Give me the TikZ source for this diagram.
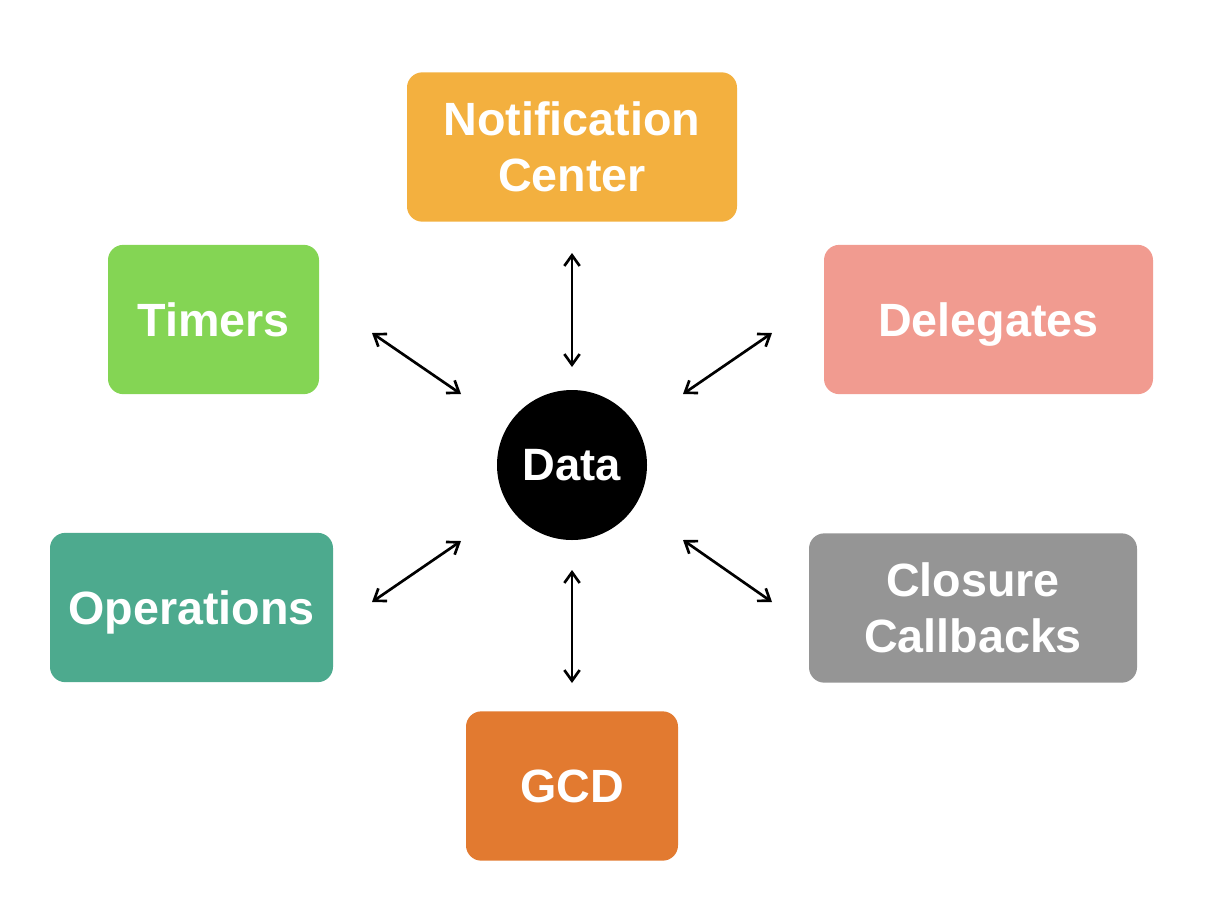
\documentclass[tikz,border=0pt]{standalone}
\usepackage{fontspec}
\setmainfont{Liberation Sans}
\usetikzlibrary{arrows.meta}

\definecolor{notifcol}{HTML}{F3B03F}
\definecolor{timercol}{HTML}{84D554}
\definecolor{delegcol}{HTML}{F19B90}
\definecolor{opercol}{HTML}{4DAA8E}
\definecolor{closurecol}{HTML}{959595}
\definecolor{gcdcol}{HTML}{E27A30}

\begin{document}
\begin{tikzpicture}[x=0.75pt,y=-0.75pt,
    topicbox/.style={rectangle,rounded corners=11.5pt,inner sep=0pt,text=white,align=center,
      minimum height=112pt,text depth=0pt,font=\bfseries\fontsize{35}{42}\selectfont},
    datastyle/.style={circle,fill=black,inner sep=0pt,minimum size=112.5pt,text=white,
      font=\bfseries\fontsize{34}{40}\selectfont},
    link/.style={{Straight Barb[length=8pt,width=11.5pt]}-{Straight Barb[length=8pt,width=11.5pt]},line width=2pt}]
    \useasboundingbox (0,0) rectangle (1206,922);
    \begin{scope}
	\node [datastyle] (data) at (572,465) {Data};
	\node [topicbox,fill=notifcol,minimum width=247.5pt] (notif) at (572,147) {Notification\\Center};
	\node [topicbox,fill=timercol,minimum width=158.25pt] (timers) at (213.5,319.5) {Timers};
	\node [topicbox,fill=delegcol,minimum width=246.75pt] (deleg) at (988.5,319.5) {Delegates};
	\node [topicbox,fill=opercol,minimum width=212.25pt] (oper) at (191.5,607.5) {Operations};
	\node [topicbox,fill=closurecol,minimum width=246pt] (closure) at (973,608) {Closure\\Callbacks};
	\node [topicbox,fill=gcdcol,minimum width=159pt] (gcd) at (572,786) {GCD};
	% arrow ends
	\coordinate (n1) at (572,253);  \coordinate (n2) at (572,367);
	\coordinate (t1) at (372,333);  \coordinate (t2) at (461,394);
	\coordinate (d1) at (772,333);  \coordinate (d2) at (683,394);
	\coordinate (o1) at (372,602);  \coordinate (o2) at (461,541);
	\coordinate (c1) at (683,540);  \coordinate (c2) at (772,602);
	\coordinate (g1) at (572,570);  \coordinate (g2) at (572,683);
	\foreach \a in {n,t,d,o,c,g}
	  \draw [link] (\a1) -- (\a2);
    \end{scope}
\end{tikzpicture}
\end{document}
